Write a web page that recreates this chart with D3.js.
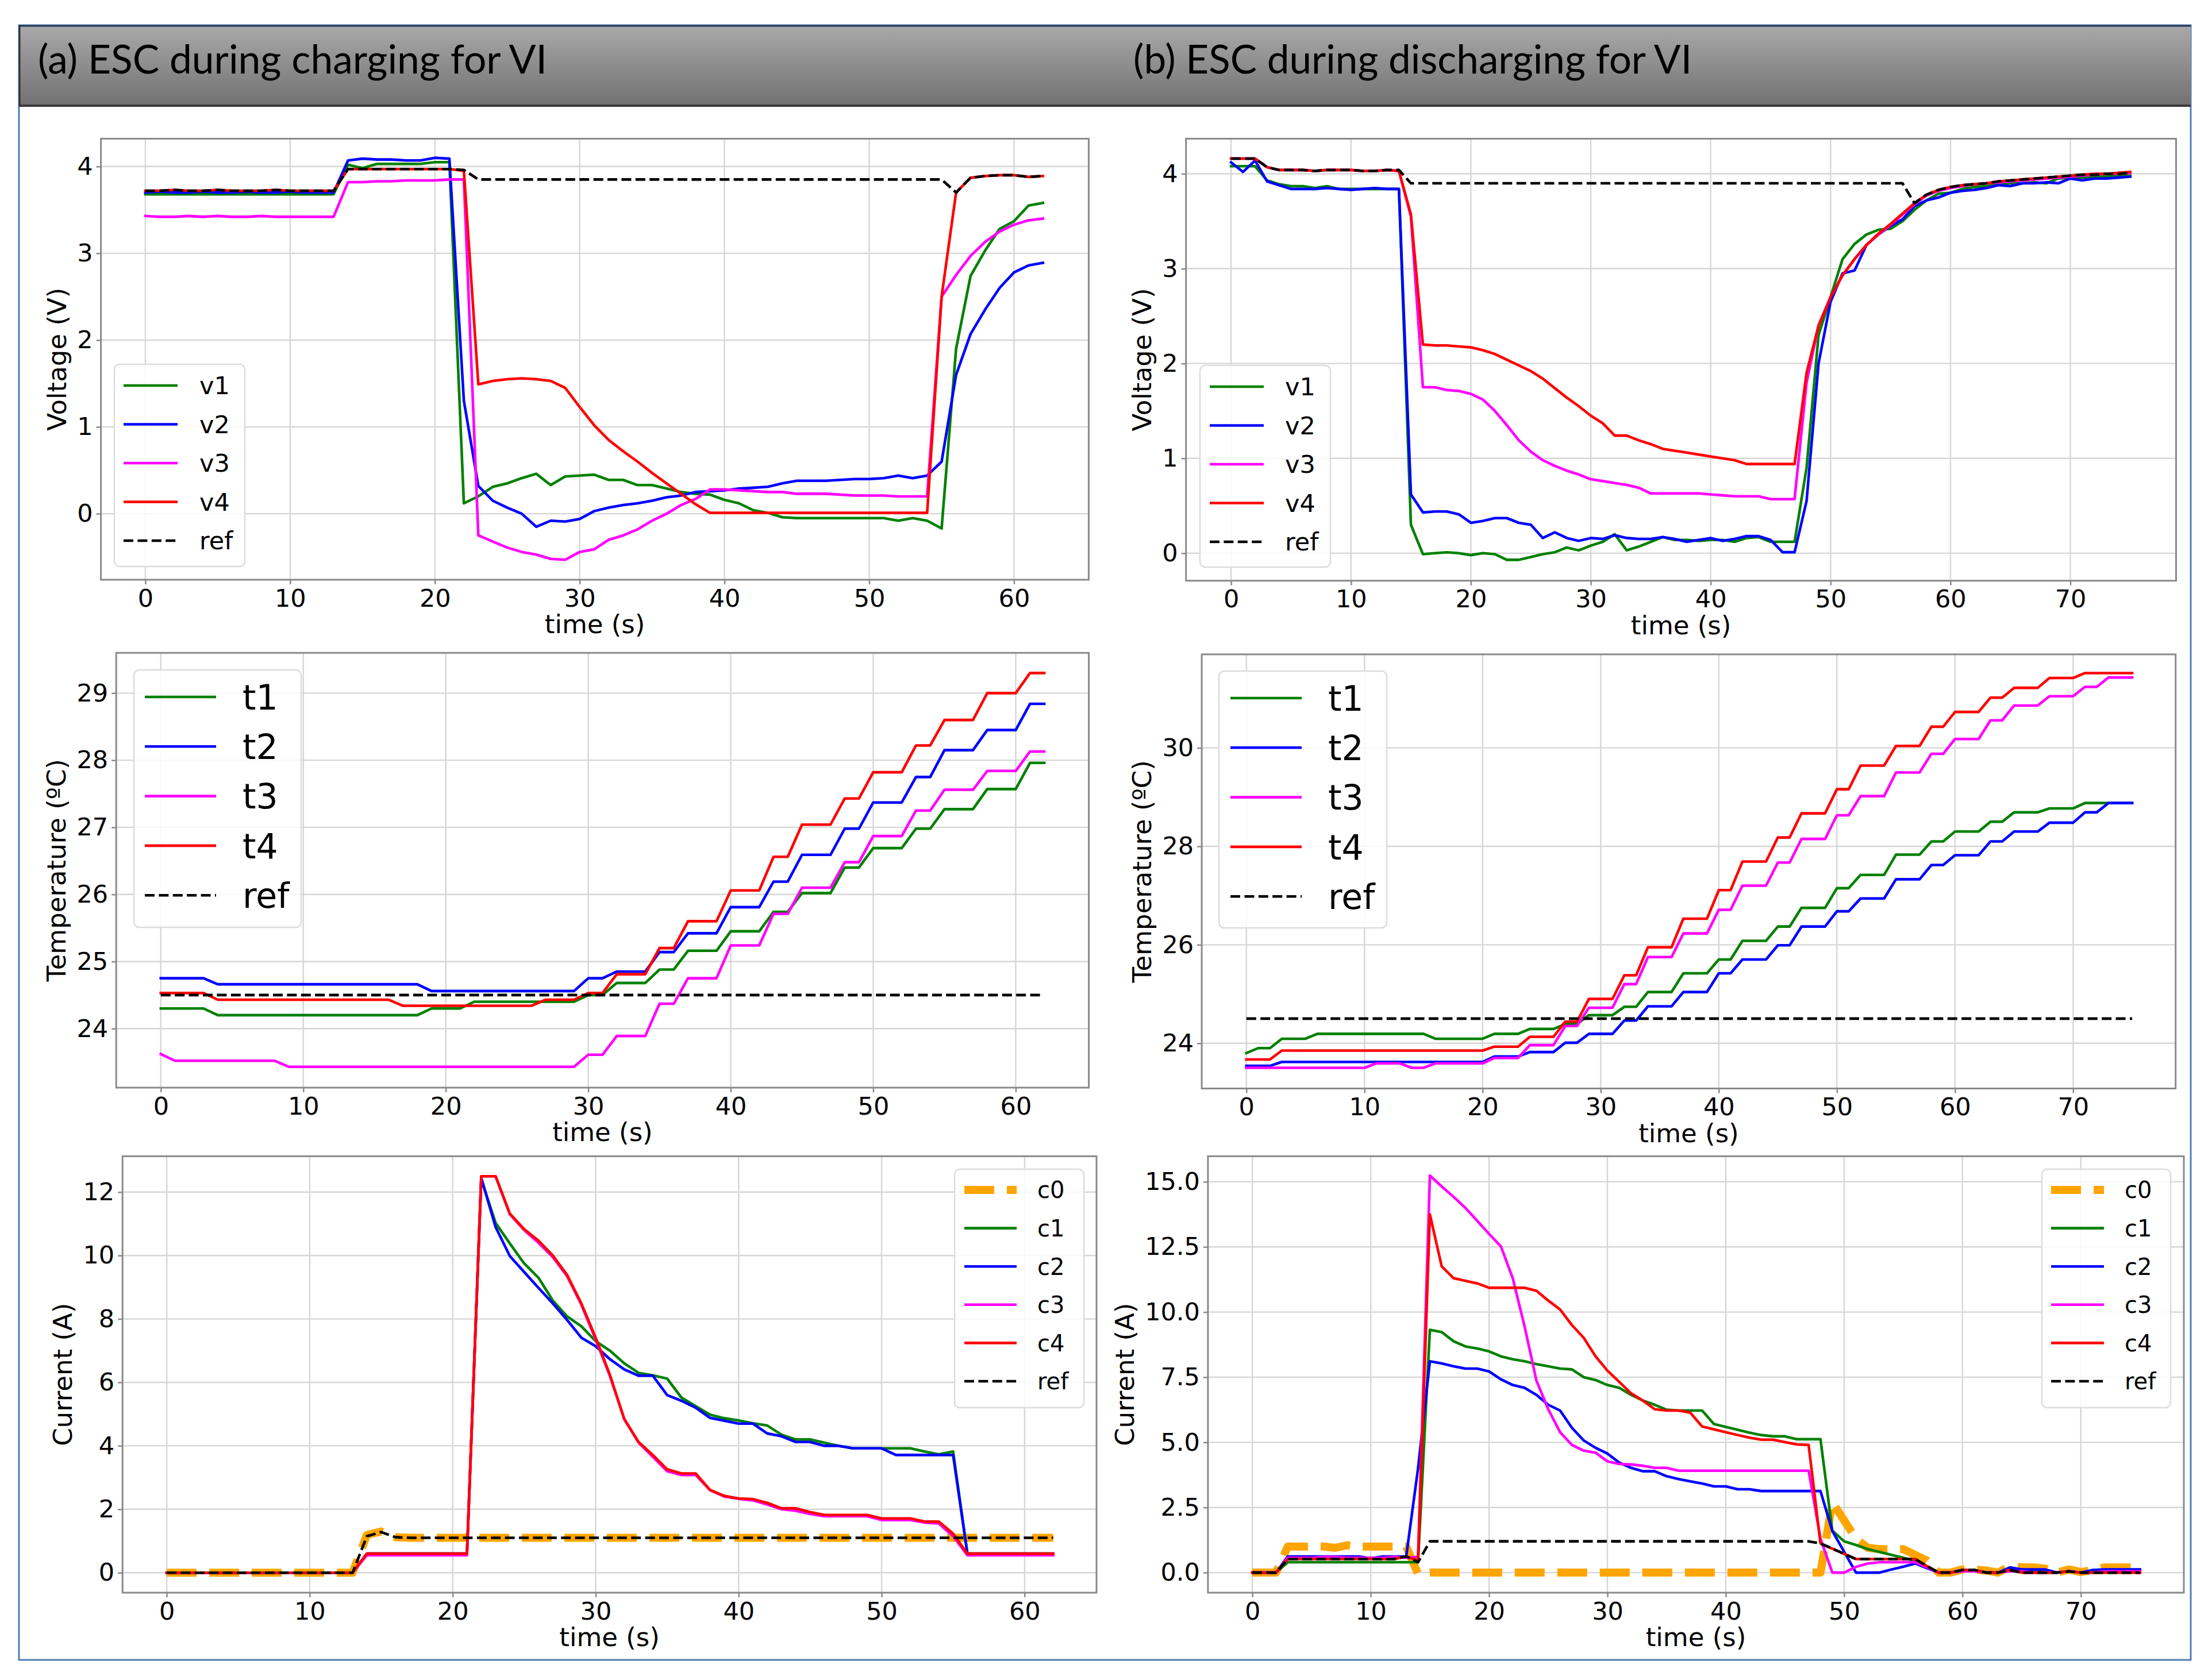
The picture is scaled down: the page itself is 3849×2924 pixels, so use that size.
<!DOCTYPE html>
<html>
<head>
<meta charset="utf-8">
<script src="https://cdn.jsdelivr.net/npm/d3@7"></script>
<style>
  body { margin: 0; background: #fff; }
</style>
</head>
<body>
<div id="vis"></div>
<script>
// ---------- time axes ----------
const tCharge = [0,1,2,3,4,5,6,7,8,9,10,11,12,13,14,15,16,17,18,19,20,21,22,23,24,25,26,27,28,29,30,
  31,32,33,34,35,36,37,38,39,40,41,42,43,44,45,46,47,48,49,50,51,52,53,54,55,56,57,58,59,60,61,62];
const tDischarge = [0,1,2,3,4,5,6,7,8,9,10,11,12,13,14,15,16,17,18,19,20,21,22,23,24,25,26,27,28,29,30,
  31,32,33,34,35,36,37,38,39,40,41,42,43,44,45,46,47,48,49,50,51,52,53,54,55,56,57,58,59,60,61,62,63,64,
  65,66,67,68,69,70,71,72,73,74,75];

// ---------- (a) charging: voltage ----------
const vChg1 = [3.68,3.68,3.68,3.68,3.68,3.68,3.68,3.68,3.68,3.68,3.68,3.68,3.68,3.68,
  4.02,3.98,4.03,4.03,4.03,4.03,4.05,4.05,
  0.12,0.2,0.31,0.35,0.41,0.46,0.33,0.43,
  0.44,0.45,0.39,0.39,0.33,0.33,0.29,0.25,0.23,0.22,
  0.16,0.12,0.04,0.01,-0.04,-0.05,-0.05,-0.05,-0.05,-0.05,
  -0.05,-0.05,-0.08,-0.05,-0.08,-0.17,1.9,2.74,3.03,3.28,
  3.37,3.55,3.58];
const vChg2 = [3.70,3.71,3.70,3.70,3.71,3.70,3.70,3.71,3.70,3.70,3.71,3.70,3.70,3.70,
  4.07,4.09,4.08,4.08,4.07,4.07,4.10,4.09,
  1.3,0.32,0.15,0.07,0.0,-0.15,-0.08,-0.09,
  -0.06,0.03,0.07,0.1,0.12,0.15,0.19,0.21,0.25,0.26,
  0.27,0.29,0.30,0.31,0.35,0.38,0.38,0.38,0.39,0.40,
  0.40,0.41,0.44,0.41,0.44,0.6,1.6,2.07,2.35,2.6,
  2.78,2.86,2.89];
const vChg3 = [3.43,3.42,3.42,3.43,3.42,3.43,3.42,3.42,3.43,3.42,3.42,3.42,3.42,3.42,
  3.82,3.82,3.83,3.83,3.84,3.84,3.84,3.85,
  3.85,-0.25,-0.32,-0.39,-0.44,-0.47,-0.52,-0.53,
  -0.44,-0.41,-0.3,-0.25,-0.18,-0.08,0.0,0.1,0.17,0.28,
  0.28,0.27,0.26,0.25,0.25,0.23,0.23,0.23,0.22,0.21,
  0.21,0.21,0.2,0.2,0.2,2.5,2.75,2.97,3.13,3.25,
  3.33,3.38,3.40];
const vChg4 = [3.72,3.72,3.73,3.72,3.72,3.73,3.72,3.72,3.72,3.73,3.72,3.72,3.72,3.72,
  3.97,3.97,3.97,3.97,3.97,3.97,3.97,3.97,
  3.95,1.49,1.53,1.55,1.56,1.55,1.53,1.45,
  1.23,1.02,0.85,0.72,0.6,0.47,0.35,0.23,0.11,0.01,
  0.01,0.01,0.01,0.01,0.01,0.01,0.01,0.01,0.01,0.01,
  0.01,0.01,0.01,0.01,0.01,2.5,3.7,3.87,3.89,3.90,
  3.90,3.88,3.89];
const vChgRef = [3.72,3.72,3.73,3.72,3.72,3.73,3.72,3.72,3.72,3.73,3.72,3.72,3.72,3.72,
  3.97,3.97,3.97,3.97,3.97,3.97,3.97,3.97,
  3.96,3.85,3.85,3.85,3.85,3.85,3.85,3.85,
  3.85,3.85,3.85,3.85,3.85,3.85,3.85,3.85,3.85,3.85,
  3.85,3.85,3.85,3.85,3.85,3.85,3.85,3.85,3.85,3.85,
  3.85,3.85,3.85,3.85,3.85,3.85,3.70,3.87,3.89,3.90,
  3.90,3.88,3.89];

// ---------- (b) discharging: voltage ----------
const vDis1 = [4.08,4.08,4.08,3.93,3.89,3.87,3.87,3.85,3.87,3.84,
  3.84,3.84,3.84,3.84,3.84,0.3,-0.01,0.0,0.01,0.0,
  -0.02,0.0,-0.01,-0.07,-0.07,-0.04,-0.01,0.01,0.06,0.03,
  0.08,0.12,0.2,0.03,0.07,0.12,0.17,0.14,0.14,0.13,
  0.14,0.14,0.12,0.16,0.17,0.12,0.12,0.12,0.9,2.3,
  2.7,3.1,3.26,3.36,3.41,3.42,3.5,3.62,3.72,3.79,
  3.8,3.84,3.86,3.87,3.89,3.9,3.9,3.91,3.9,3.95,
  3.96,3.96,3.97,3.97,3.98,3.98];
const vDis2 = [4.12,4.02,4.14,3.92,3.88,3.84,3.84,3.84,3.85,3.84,
  3.83,3.84,3.85,3.84,3.84,0.62,0.43,0.44,0.44,0.41,
  0.32,0.34,0.37,0.37,0.32,0.3,0.16,0.22,0.16,0.13,
  0.16,0.15,0.19,0.16,0.15,0.15,0.17,0.15,0.12,0.14,
  0.16,0.13,0.15,0.18,0.18,0.14,0.01,0.01,0.55,2.0,
  2.65,2.95,2.98,3.25,3.36,3.45,3.52,3.66,3.72,3.75,
  3.8,3.82,3.83,3.85,3.88,3.87,3.9,3.9,3.91,3.9,
  3.95,3.93,3.95,3.95,3.96,3.97];
const vDis3 = [4.16,4.16,4.16,4.07,4.04,4.04,4.04,4.03,4.04,4.04,
  4.04,4.03,4.03,4.04,4.03,3.55,1.75,1.75,1.72,1.71,
  1.68,1.62,1.5,1.35,1.19,1.07,0.98,0.92,0.87,0.83,
  0.78,0.76,0.74,0.72,0.69,0.63,0.63,0.63,0.63,0.63,
  0.62,0.61,0.6,0.6,0.6,0.57,0.57,0.57,1.8,2.4,
  2.7,2.93,3.1,3.25,3.36,3.46,3.57,3.68,3.77,3.82,
  3.85,3.87,3.89,3.9,3.91,3.92,3.93,3.94,3.95,3.96,
  3.97,3.98,3.99,4.0,4.0,4.01];
const vDis4 = [4.16,4.16,4.16,4.07,4.04,4.04,4.04,4.03,4.04,4.04,
  4.04,4.03,4.03,4.04,4.03,3.57,2.2,2.19,2.19,2.18,
  2.17,2.14,2.1,2.04,1.98,1.92,1.84,1.74,1.64,1.55,
  1.45,1.37,1.24,1.24,1.19,1.15,1.1,1.08,1.06,1.04,
  1.02,1.0,0.98,0.94,0.94,0.94,0.94,0.94,1.9,2.4,
  2.7,2.93,3.1,3.25,3.37,3.47,3.58,3.69,3.78,3.83,
  3.86,3.88,3.89,3.9,3.92,3.93,3.94,3.95,3.96,3.97,
  3.98,3.99,4.0,4.0,4.01,4.02];
const vDisRef = [4.16,4.16,4.16,4.07,4.04,4.04,4.04,4.03,4.04,4.04,
  4.04,4.03,4.03,4.04,4.04,3.9,3.9,3.9,3.9,3.9,
  3.9,3.9,3.9,3.9,3.9,3.9,3.9,3.9,3.9,3.9,
  3.9,3.9,3.9,3.9,3.9,3.9,3.9,3.9,3.9,3.9,
  3.9,3.9,3.9,3.9,3.9,3.9,3.9,3.9,3.9,3.9,
  3.9,3.9,3.9,3.9,3.9,3.9,3.9,3.69,3.78,3.83,
  3.86,3.88,3.89,3.9,3.92,3.93,3.94,3.95,3.96,3.97,
  3.98,3.99,3.99,4.0,4.0,4.01];

// ---------- (a) charging: temperature ----------
const tChg1 = [24.3,24.3,24.3,24.3,24.2,24.2,24.2,24.2,24.2,24.2,
  24.2,24.2,24.2,24.2,24.2,24.2,24.2,24.2,24.2,24.3,
  24.3,24.3,24.4,24.4,24.4,24.4,24.4,24.4,24.4,24.4,
  24.5,24.5,24.68,24.68,24.68,24.88,24.88,25.16,25.16,25.16,
  25.45,25.45,25.45,25.74,25.74,26.02,26.02,26.02,26.4,26.4,
  26.69,26.69,26.69,26.98,26.98,27.27,27.27,27.27,27.57,27.57,
  27.57,27.96,27.96];
const tChg2 = [24.75,24.75,24.75,24.75,24.66,24.66,24.66,24.66,24.66,24.66,
  24.66,24.66,24.66,24.66,24.66,24.66,24.66,24.66,24.66,24.56,
  24.56,24.56,24.56,24.56,24.56,24.56,24.56,24.56,24.56,24.56,
  24.75,24.75,24.85,24.85,24.85,25.14,25.14,25.42,25.42,25.42,
  25.81,25.81,25.81,26.19,26.19,26.59,26.59,26.59,26.98,26.98,
  27.37,27.37,27.37,27.75,27.75,28.15,28.15,28.15,28.45,28.45,
  28.45,28.84,28.84];
const tChg3 = [23.62,23.52,23.52,23.52,23.52,23.52,23.52,23.52,23.52,23.43,
  23.43,23.43,23.43,23.43,23.43,23.43,23.43,23.43,23.43,23.43,
  23.43,23.43,23.43,23.43,23.43,23.43,23.43,23.43,23.43,23.43,
  23.61,23.61,23.89,23.89,23.89,24.37,24.37,24.75,24.75,24.75,
  25.24,25.24,25.24,25.71,25.71,26.1,26.1,26.1,26.48,26.48,
  26.87,26.87,26.87,27.25,27.25,27.56,27.56,27.56,27.84,27.84,
  27.84,28.13,28.13];
const tChg4 = [24.53,24.53,24.53,24.53,24.43,24.43,24.43,24.43,24.43,24.43,
  24.43,24.43,24.43,24.43,24.43,24.43,24.43,24.34,24.34,24.34,
  24.34,24.34,24.34,24.34,24.34,24.34,24.34,24.43,24.43,24.43,
  24.53,24.53,24.81,24.81,24.81,25.2,25.2,25.6,25.6,25.6,
  26.06,26.06,26.06,26.56,26.56,27.04,27.04,27.04,27.43,27.43,
  27.82,27.82,27.82,28.22,28.22,28.6,28.6,28.6,29.0,29.0,
  29.0,29.3,29.3];
const tChgRef = [24.5,24.5,24.5,24.5,24.5,24.5,24.5,24.5,24.5,24.5,
  24.5,24.5,24.5,24.5,24.5,24.5,24.5,24.5,24.5,24.5,
  24.5,24.5,24.5,24.5,24.5,24.5,24.5,24.5,24.5,24.5,
  24.5,24.5,24.5,24.5,24.5,24.5,24.5,24.5,24.5,24.5,
  24.5,24.5,24.5,24.5,24.5,24.5,24.5,24.5,24.5,24.5,
  24.5,24.5,24.5,24.5,24.5,24.5,24.5,24.5,24.5,24.5,
  24.5,24.5,24.5];

// ---------- (b) discharging: temperature ----------
const tDis1 = [23.8,23.9,23.9,24.09,24.09,24.09,24.19,24.19,24.19,24.19,
  24.19,24.19,24.19,24.19,24.19,24.19,24.09,24.09,24.09,24.09,
  24.09,24.19,24.19,24.19,24.29,24.29,24.29,24.39,24.39,24.57,
  24.57,24.57,24.74,24.74,25.04,25.04,25.04,25.42,25.42,25.42,
  25.7,25.7,26.08,26.08,26.08,26.37,26.37,26.75,26.75,26.75,
  27.15,27.15,27.42,27.42,27.42,27.83,27.83,27.83,28.1,28.1,
  28.3,28.3,28.3,28.5,28.5,28.69,28.69,28.69,28.77,28.77,
  28.77,28.88,28.88,28.88,28.88,28.88];
const tDis2 = [23.54,23.54,23.54,23.62,23.62,23.62,23.62,23.62,23.62,23.62,
  23.62,23.62,23.62,23.62,23.62,23.62,23.62,23.62,23.62,23.62,
  23.62,23.73,23.73,23.73,23.82,23.82,23.82,24.01,24.01,24.19,
  24.19,24.19,24.46,24.46,24.75,24.75,24.75,25.04,25.04,25.04,
  25.42,25.42,25.7,25.7,25.7,25.99,25.99,26.37,26.37,26.37,
  26.68,26.68,26.94,26.94,26.94,27.33,27.33,27.33,27.62,27.62,
  27.82,27.82,27.82,28.1,28.1,28.3,28.3,28.3,28.48,28.48,
  28.48,28.69,28.69,28.88,28.88,28.88];
const tDis3 = [23.5,23.5,23.5,23.5,23.5,23.5,23.5,23.5,23.5,23.5,
  23.5,23.59,23.59,23.59,23.5,23.5,23.59,23.59,23.59,23.59,
  23.59,23.7,23.7,23.7,23.96,23.96,23.96,24.35,24.35,24.72,
  24.72,24.72,25.2,25.2,25.75,25.75,25.75,26.23,26.23,26.23,
  26.71,26.71,27.2,27.2,27.2,27.67,27.67,28.15,28.15,28.15,
  28.63,28.63,29.02,29.02,29.02,29.5,29.5,29.5,29.88,29.88,
  30.18,30.18,30.18,30.56,30.56,30.86,30.86,30.86,31.05,31.05,
  31.05,31.24,31.24,31.43,31.43,31.43];
const tDis4 = [23.67,23.67,23.67,23.85,23.85,23.85,23.85,23.85,23.85,23.85,
  23.85,23.85,23.85,23.85,23.85,23.85,23.85,23.85,23.85,23.85,
  23.85,23.93,23.93,23.93,24.13,24.13,24.13,24.44,24.44,24.9,
  24.9,24.9,25.38,25.38,25.95,25.95,25.95,26.53,26.53,26.53,
  27.11,27.11,27.69,27.69,27.69,28.18,28.18,28.67,28.67,28.67,
  29.16,29.16,29.64,29.64,29.64,30.04,30.04,30.04,30.43,30.43,
  30.73,30.73,30.73,31.02,31.02,31.22,31.22,31.22,31.42,31.42,
  31.42,31.52,31.52,31.52,31.52,31.52];
const tDisRef = [24.5,24.5,24.5,24.5,24.5,24.5,24.5,24.5,24.5,24.5,
  24.5,24.5,24.5,24.5,24.5,24.5,24.5,24.5,24.5,24.5,
  24.5,24.5,24.5,24.5,24.5,24.5,24.5,24.5,24.5,24.5,
  24.5,24.5,24.5,24.5,24.5,24.5,24.5,24.5,24.5,24.5,
  24.5,24.5,24.5,24.5,24.5,24.5,24.5,24.5,24.5,24.5,
  24.5,24.5,24.5,24.5,24.5,24.5,24.5,24.5,24.5,24.5,
  24.5,24.5,24.5,24.5,24.5,24.5,24.5,24.5,24.5,24.5,
  24.5,24.5,24.5,24.5,24.5,24.5];

// ---------- (a) charging: current ----------
const cChg0 = [0,0,0,0,0,0,0,0,0,0,0,0,0,0,
  1.19,1.3,1.12,1.1,1.1,1.1,1.1,1.1,1.1,1.1,
  1.1,1.1,1.1,1.1,1.1,1.1,1.1,1.1,1.1,1.1,
  1.1,1.1,1.1,1.1,1.1,1.1,1.1,1.1,1.1,1.1,
  1.1,1.1,1.1,1.1,1.1,1.1,1.1,1.1,1.1,1.1,
  1.1,1.1,1.1,1.1,1.1,1.1,1.1,1.1,1.1];
const cChg1 = [0,0,0,0,0,0,0,0,0,0,0,0,0,0,
  0.6,0.6,0.6,0.6,0.6,0.6,0.6,0.6,
  12.4,11.03,10.38,9.75,9.3,8.58,8.08,7.77,
  7.3,7.0,6.6,6.3,6.22,6.12,5.52,5.25,4.98,4.87,
  4.8,4.71,4.64,4.35,4.2,4.2,4.1,4.0,3.92,3.92,
  3.92,3.92,3.92,3.82,3.73,3.82,0.6,0.6,0.6,0.6,
  0.6,0.6,0.6];
const cChg2 = [0,0,0,0,0,0,0,0,0,0,0,0,0,0,
  0.6,0.6,0.6,0.6,0.6,0.6,0.6,0.6,
  12.45,10.9,9.98,9.48,8.98,8.49,7.97,7.41,
  7.14,6.73,6.41,6.21,6.21,5.6,5.42,5.2,4.88,4.79,
  4.7,4.7,4.39,4.3,4.12,4.12,4.0,4.0,3.92,3.92,
  3.92,3.71,3.71,3.71,3.71,3.71,0.6,0.6,0.6,0.6,
  0.6,0.6,0.6];
const cChg3 = [0,0,0,0,0,0,0,0,0,0,0,0,0,0,
  0.55,0.55,0.55,0.55,0.55,0.55,0.55,0.55,
  12.5,12.5,11.3,10.8,10.4,9.95,9.35,8.45,
  7.35,6.2,4.85,4.1,3.65,3.2,3.08,3.08,2.6,2.4,
  2.33,2.28,2.15,2.0,1.95,1.85,1.78,1.78,1.78,1.78,
  1.66,1.66,1.66,1.58,1.55,1.15,0.55,0.55,0.55,0.55,
  0.55,0.55,0.55];
const cChg4 = [0,0,0,0,0,0,0,0,0,0,0,0,0,0,
  0.6,0.6,0.6,0.6,0.6,0.6,0.6,0.6,
  12.5,12.5,11.32,10.83,10.47,10.0,9.39,8.49,
  7.41,6.23,4.84,4.12,3.71,3.26,3.13,3.13,2.61,2.42,
  2.34,2.32,2.2,2.03,2.03,1.91,1.82,1.82,1.82,1.82,
  1.71,1.71,1.71,1.61,1.61,1.23,0.6,0.6,0.6,0.6,
  0.6,0.6,0.6];
const cChgRef = [0,0,0,0,0,0,0,0,0,0,0,0,0,0,
  1.15,1.28,1.12,1.1,1.1,1.1,1.1,1.1,1.1,1.1,
  1.1,1.1,1.1,1.1,1.1,1.1,1.1,1.1,1.1,1.1,
  1.1,1.1,1.1,1.1,1.1,1.1,1.1,1.1,1.1,1.1,
  1.1,1.1,1.1,1.1,1.1,1.1,1.1,1.1,1.1,1.1,
  1.1,1.1,1.1,1.1,1.1,1.1,1.1,1.1,1.1];

// ---------- (b) discharging: current ----------
const cDis0 = [0,0,0,1.0,1.0,1.0,1.0,0.95,1.05,1.0,1.0,1.0,1.0,1.0,
  -0.05,0,0,0,0,0,0,0,0,0,0,0,0,0,0,0,0,0,0,0,0,
  0,0,0,0,0,0,0,0,0,0,0,0,0,0,
  2.7,2.0,1.3,0.95,0.9,0.9,0.9,0.68,0.46,0,
  0,0.12,0.12,0.08,0,0.25,0.2,0.2,0.15,0,
  0.12,0.02,0.1,0.2,0.2,0.2,0.2];
const cDis1 = [0,0,0,0.4,0.4,0.4,0.4,0.4,0.4,0.4,0.4,0.4,0.4,0.4,0.4,
  9.32,9.23,8.88,8.68,8.6,8.49,8.3,8.19,8.11,8.0,
  7.92,7.83,7.8,7.5,7.39,7.2,7.09,6.82,6.6,6.44,
  6.25,6.22,6.22,6.22,5.7,5.59,5.48,5.37,5.28,5.23,
  5.23,5.12,5.12,5.12,
  1.61,1.2,1.06,0.9,0.79,0.68,0.57,0.45,0.2,0,
  0,0.1,0.05,0,0,0.1,0.05,0.05,0,0,
  0.05,0,0.05,0.05,0.05,0.05,0.05];
const cDis2 = [0,0,0,0.62,0.62,0.62,0.62,0.62,0.62,0.62,0.55,0.62,0.62,0.62,
  4.0,8.11,8.03,7.92,7.83,7.83,7.72,7.42,7.2,7.09,
  6.82,6.44,6.22,5.56,5.07,4.79,4.57,4.22,4.02,3.89,
  3.89,3.7,3.59,3.5,3.42,3.31,3.31,3.2,3.2,
  3.13,3.13,3.13,3.13,3.13,3.13,
  1.6,0.8,0,0,0,0.12,0.23,0.35,0.17,0,
  0,0.1,0.1,0,0,0.2,0.12,0.12,0.12,0,
  0.05,0,0.1,0.12,0.12,0.12,0.12];
const cDis3 = [0,0,0,0.57,0.57,0.57,0.6,0.6,0.57,0.57,0.57,0.57,0.6,0.57,0.6,
  15.24,14.82,14.42,14.0,13.5,13.0,12.52,11.3,9.45,7.37,
  6.27,5.39,4.9,4.68,4.6,4.27,4.17,4.15,4.1,4.02,4.02,
  3.91,3.91,3.91,3.91,3.91,3.91,3.91,3.91,3.91,3.91,3.91,3.91,
  1.3,0,0,0.22,0.35,0.4,0.4,0.4,0.4,0.2,0,
  0,0.05,0.05,0,0,0.05,0.05,0,0,0,
  0.05,0,0,0.05,0.05,0.05,0.05];
const cDis4 = [0,0,0,0.52,0.52,0.52,0.52,0.52,0.52,0.52,0.52,0.52,0.52,0.62,0.46,
  13.75,11.75,11.3,11.2,11.1,10.93,10.93,10.93,10.93,10.82,
  10.44,10.1,9.5,9.01,8.3,7.75,7.32,6.88,6.6,6.27,
  6.22,6.22,6.14,5.61,5.5,5.39,5.28,5.18,5.1,5.1,
  5.01,4.92,4.9,
  1.12,0.92,0.72,0.52,0.52,0.52,0.52,0.52,0.52,0.25,0,
  0,0.1,0.1,0,0,0.1,0,0,0,0,
  0.05,0,0,0,0,0,0];
const cDisRef = [0,0,0,0.52,0.52,0.52,0.52,0.52,0.52,0.52,0.52,0.52,0.52,0.62,0.4,
  1.2,1.2,1.2,1.2,1.2,1.2,1.2,1.2,1.2,1.2,
  1.2,1.2,1.2,1.2,1.2,1.2,1.2,1.2,1.2,1.2,
  1.2,1.2,1.2,1.2,1.2,1.2,1.2,1.2,1.2,1.2,
  1.2,1.2,1.2,
  1.12,0.92,0.72,0.52,0.52,0.52,0.52,0.52,0.52,0.25,0,
  0,0.1,0.1,0,0,0.1,0,0,0,0,
  0.05,0,0,0,0,0,0];

// ---------- tick values ----------
const xTicksChg = [0, 10, 20, 30, 40, 50, 60];
const xTicksDis = [0, 10, 20, 30, 40, 50, 60, 70];
const yTicksVolt = [0, 1, 2, 3, 4];
const yTicksTempChg = [24, 25, 26, 27, 28, 29];
const yTicksTempDis = [24, 26, 28, 30];
const yTicksCurChg = [0, 2, 4, 6, 8, 10, 12];
const yTicksCurDis = [0, 2.5, 5, 7.5, 10, 12.5, 15];

const panelTitles = ["(a) ESC during charging for VI", "(b) ESC during discharging for VI"];

// ---------- styles ----------
const GREEN = "#008000", BLUE = "#0000ff", MAGENTA = "#ff00ff", RED = "#ff0000", ORANGE = "#ffa500";
const LW = 4.6;
const solid = c => ({ color: c, width: LW, dash: null });
const refStyle = { color: "#000", width: LW, dash: "17 7.4" };
const c0Style = { color: ORANGE, width: 14, dash: "52 22" };

const W = 3849, H = 2924;
const FONT = "'DejaVu Sans', sans-serif";

const svg = d3.select("#vis").append("svg")
  .attr("width", W).attr("height", H)
  .attr("viewBox", `0 0 ${W} ${H}`);

svg.append("rect").attr("width", W).attr("height", H).attr("fill", "#fff");

// ---------- header band ----------
const defs = svg.append("defs");
const grad = defs.append("linearGradient").attr("id", "hdr").attr("x1", 0).attr("y1", 0).attr("x2", 0).attr("y2", 1);
grad.append("stop").attr("offset", "0%").attr("stop-color", "#a9a9a9");
grad.append("stop").attr("offset", "100%").attr("stop-color", "#717171");

svg.append("rect")
  .attr("x", 33).attr("y", 44).attr("width", 3779).attr("height", 2845)
  .attr("fill", "none").attr("stroke", "#4f7fb5").attr("stroke-width", 3);

svg.append("rect")
  .attr("x", 33).attr("y", 44).attr("width", 3779).attr("height", 141)
  .attr("fill", "url(#hdr)");
svg.append("line").attr("x1", 33).attr("x2", 3812).attr("y1", 45).attr("y2", 45)
  .attr("stroke", "#243a55").attr("stroke-width", 3);
svg.append("line").attr("x1", 33).attr("x2", 3812).attr("y1", 184).attr("y2", 184)
  .attr("stroke", "#3a3a3a").attr("stroke-width", 4);
svg.append("line").attr("x1", 34).attr("x2", 34).attr("y1", 44).attr("y2", 185)
  .attr("stroke", "#333").attr("stroke-width", 3);

const titlePos = [{ x: 66, len: 886 }, { x: 1972, len: 972 }];
svg.selectAll("text.title")
  .data(panelTitles)
  .join("text")
  .attr("class", "title")
  .attr("x", (d, i) => titlePos[i].x)
  .attr("y", 128)
  .attr("textLength", (d, i) => titlePos[i].len)
  .attr("lengthAdjust", "spacingAndGlyphs")
  .attr("font-family", "Lato, 'Open Sans', sans-serif")
  .attr("font-size", 70)
  .attr("fill", "#000")
  .text(d => d);

// ---------- panel drawing ----------
function drawPanel(cfg) {
  const x = d3.scaleLinear().domain(cfg.xDomain).range([cfg.left, cfg.right]);
  const y = d3.scaleLinear().domain(cfg.yDomain).range([cfg.bottom, cfg.top]);
  const g = svg.append("g");

  // grid
  g.append("g").selectAll("line")
    .data(cfg.xTicks).join("line")
    .attr("x1", d => x(d)).attr("x2", d => x(d))
    .attr("y1", cfg.top).attr("y2", cfg.bottom)
    .attr("stroke", "#d6d6d6").attr("stroke-width", 2.4);
  g.append("g").selectAll("line")
    .data(cfg.yTicks).join("line")
    .attr("y1", d => y(d)).attr("y2", d => y(d))
    .attr("x1", cfg.left).attr("x2", cfg.right)
    .attr("stroke", "#d6d6d6").attr("stroke-width", 2.4);

  // series
  const line = d3.line()
    .x((d, i) => x(cfg.t[i]))
    .y(d => y(d));

  g.append("g").selectAll("path")
    .data(cfg.series).join("path")
    .attr("d", s => line(s.values))
    .attr("fill", "none")
    .attr("stroke", s => s.style.color)
    .attr("stroke-width", s => s.style.width)
    .attr("stroke-dasharray", s => s.style.dash)
    .attr("stroke-linejoin", "round")
    .attr("stroke-linecap", s => s.style.dash ? "butt" : "square");

  // frame
  g.append("rect")
    .attr("x", cfg.left).attr("y", cfg.top)
    .attr("width", cfg.right - cfg.left).attr("height", cfg.bottom - cfg.top)
    .attr("fill", "none").attr("stroke", "#8a8a8a").attr("stroke-width", 3);

  // axes
  const xAxis = g.append("g")
    .attr("transform", `translate(0,${cfg.bottom})`)
    .call(d3.axisBottom(x).tickValues(cfg.xTicks).tickSize(8).tickPadding(8).tickFormat(d3.format("d")));
  const yAxis = g.append("g")
    .attr("transform", `translate(${cfg.left},0)`)
    .call(d3.axisLeft(y).tickValues(cfg.yTicks).tickSize(8).tickPadding(6).tickFormat(cfg.yFormat));

  [xAxis, yAxis].forEach(a => {
    a.select(".domain").remove();
    a.selectAll(".tick line").attr("stroke", "#8a8a8a").attr("stroke-width", 2.5);
    a.selectAll(".tick text")
      .attr("font-family", FONT).attr("font-size", 43).attr("fill", "#000");
  });

  let maxW = 0;
  yAxis.selectAll(".tick text").each(function () {
    maxW = Math.max(maxW, this.getComputedTextLength());
  });

  // axis labels
  g.append("text")
    .attr("x", (cfg.left + cfg.right) / 2)
    .attr("y", cfg.bottom + 93)
    .attr("text-anchor", "middle")
    .attr("font-family", FONT).attr("font-size", 45).attr("fill", "#000")
    .text("time (s)");

  const lx = cfg.left - 14 - maxW - 19;
  const ly = (cfg.top + cfg.bottom) / 2;
  g.append("text")
    .attr("transform", `translate(${lx},${ly}) rotate(-90)`)
    .attr("text-anchor", "middle")
    .attr("font-family", FONT).attr("font-size", 45).attr("fill", "#000")
    .text(cfg.yLabel);

  // legend
  const L = cfg.legend;
  const lg = g.append("g");
  lg.append("rect")
    .attr("x", L.x).attr("y", L.y).attr("width", L.w).attr("height", L.h)
    .attr("rx", 9)
    .attr("fill", "#fff").attr("fill-opacity", 0.85)
    .attr("stroke", "#dcdcdc").attr("stroke-width", 2.5);

  const items = lg.selectAll("g.item")
    .data(cfg.series).join("g")
    .attr("class", "item")
    .attr("transform", (d, i) => `translate(0,${L.row0 + i * L.step})`);
  items.append("line")
    .attr("x1", L.lx1).attr("x2", L.lx2)
    .attr("stroke", s => s.style.color)
    .attr("stroke-width", s => s.style.width)
    .attr("stroke-dasharray", s => s.style.dash);
  items.append("text")
    .attr("x", L.tx)
    .attr("y", L.fs * 0.36)
    .attr("font-family", FONT).attr("font-size", L.fs).attr("fill", "#000")
    .text(s => s.name);
}

const panels = [
  {
    t: tCharge, left: 175.6, right: 1894.4, top: 241.4, bottom: 1009,
    xDomain: [-3.07, 65.16], yDomain: [-0.76, 4.32],
    xTicks: xTicksChg, yTicks: yTicksVolt, yFormat: d3.format("d"),
    yLabel: "Voltage (V)",
    series: [
      { name: "v1", values: vChg1, style: solid(GREEN) },
      { name: "v2", values: vChg2, style: solid(BLUE) },
      { name: "v3", values: vChg3, style: solid(MAGENTA) },
      { name: "v4", values: vChg4, style: solid(RED) },
      { name: "ref", values: vChgRef, style: refStyle }
    ],
    legend: { x: 199, y: 634, w: 227, h: 352, row0: 671, step: 67.5, lx1: 215, lx2: 309, tx: 347, fs: 43 }
  },
  {
    t: tDischarge, left: 2063.7, right: 3786.5, top: 241.4, bottom: 1010.7,
    xDomain: [-3.76, 78.82], yDomain: [-0.29, 4.37],
    xTicks: xTicksDis, yTicks: yTicksVolt, yFormat: d3.format("d"),
    yLabel: "Voltage (V)",
    series: [
      { name: "v1", values: vDis1, style: solid(GREEN) },
      { name: "v2", values: vDis2, style: solid(BLUE) },
      { name: "v3", values: vDis3, style: solid(MAGENTA) },
      { name: "v4", values: vDis4, style: solid(RED) },
      { name: "ref", values: vDisRef, style: refStyle }
    ],
    legend: { x: 2088, y: 636, w: 227, h: 351, row0: 673, step: 67.5, lx1: 2105, lx2: 2199, tx: 2236, fs: 43 }
  },
  {
    t: tCharge, left: 202.2, right: 1894.6, top: 1136.3, bottom: 1893,
    xDomain: [-3.13, 65.13], yDomain: [23.12, 29.6],
    xTicks: xTicksChg, yTicks: yTicksTempChg, yFormat: d3.format("d"),
    yLabel: "Temperature (ºC)",
    series: [
      { name: "t1", values: tChg1, style: solid(GREEN) },
      { name: "t2", values: tChg2, style: solid(BLUE) },
      { name: "t3", values: tChg3, style: solid(MAGENTA) },
      { name: "t4", values: tChg4, style: solid(RED) },
      { name: "ref", values: tChgRef, style: refStyle }
    ],
    legend: { x: 233, y: 1166, w: 291, h: 448, row0: 1213, step: 86.3, lx1: 252, lx2: 376, tx: 422, fs: 60 }
  },
  {
    t: tDischarge, left: 2091.1, right: 3785.7, top: 1138.9, bottom: 1894.5,
    xDomain: [-3.78, 78.68], yDomain: [23.08, 31.9],
    xTicks: xTicksDis, yTicks: yTicksTempDis, yFormat: d3.format("d"),
    yLabel: "Temperature (ºC)",
    series: [
      { name: "t1", values: tDis1, style: solid(GREEN) },
      { name: "t2", values: tDis2, style: solid(BLUE) },
      { name: "t3", values: tDis3, style: solid(MAGENTA) },
      { name: "t4", values: tDis4, style: solid(RED) },
      { name: "ref", values: tDisRef, style: refStyle }
    ],
    legend: { x: 2121, y: 1168, w: 292, h: 447, row0: 1215, step: 86.3, lx1: 2141, lx2: 2265, tx: 2311, fs: 60 }
  },
  {
    t: tCharge, left: 213.2, right: 1908, top: 2012.4, bottom: 2772,
    xDomain: [-3.09, 65.03], yDomain: [-0.63, 13.13],
    xTicks: xTicksChg, yTicks: yTicksCurChg, yFormat: d3.format("d"),
    yLabel: "Current (A)",
    series: [
      { name: "c0", values: cChg0, style: c0Style },
      { name: "c1", values: cChg1, style: solid(GREEN) },
      { name: "c2", values: cChg2, style: solid(BLUE) },
      { name: "c3", values: cChg3, style: solid(MAGENTA) },
      { name: "c4", values: cChg4, style: solid(RED) },
      { name: "ref", values: cChgRef, style: refStyle }
    ],
    legend: { x: 1661, y: 2035, w: 225, h: 415, row0: 2071, step: 66.6, lx1: 1678, lx2: 1769, tx: 1805, fs: 40 }
  },
  {
    t: tDischarge, left: 2101.9, right: 3800, top: 2012.4, bottom: 2772,
    xDomain: [-3.75, 78.7], yDomain: [-0.77, 15.98],
    xTicks: xTicksDis, yTicks: yTicksCurDis, yFormat: d3.format(".1f"),
    yLabel: "Current (A)",
    series: [
      { name: "c0", values: cDis0, style: c0Style },
      { name: "c1", values: cDis1, style: solid(GREEN) },
      { name: "c2", values: cDis2, style: solid(BLUE) },
      { name: "c3", values: cDis3, style: solid(MAGENTA) },
      { name: "c4", values: cDis4, style: solid(RED) },
      { name: "ref", values: cDisRef, style: refStyle }
    ],
    legend: { x: 3553, y: 2035, w: 224, h: 415, row0: 2071, step: 66.6, lx1: 3569, lx2: 3661, tx: 3697, fs: 40 }
  }
];

panels.forEach(drawPanel);
</script>
</body>
</html>
